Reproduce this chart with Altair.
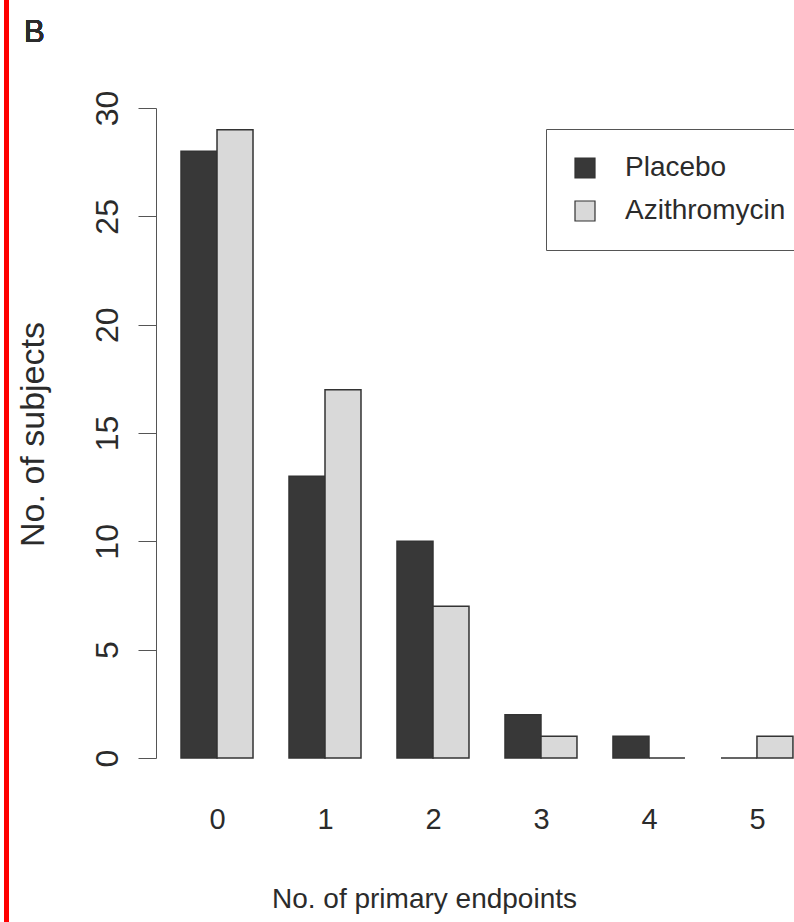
import altair as alt
import pandas as pd

# Number of primary endpoints per subject, by treatment arm
endpoints = [0, 1, 2, 3, 4, 5]
placebo = [28, 13, 10, 2, 1, 0]
azithromycin = [29, 17, 7, 1, 0, 1]
groups = ["Placebo", "Azithromycin"]
colors = ["#383838", "#d9d9d9"]

rows = []
for k, p, a in zip(endpoints, placebo, azithromycin):
    rows.append({"endpoints": k, "arm": "Placebo", "subjects": p})
    rows.append({"endpoints": k, "arm": "Azithromycin", "subjects": a})
df = pd.DataFrame(rows)

FONT = "Liberation Sans"
TXT = "#2b2b2b"

# side-by-side bars: each bar is a third of a group step wide
bars = (
    alt.Chart(df)
    .transform_calculate(
        x0="datum.endpoints + (datum.arm === 'Placebo' ? -1/3 : 0)",
        x1="datum.endpoints + (datum.arm === 'Placebo' ? 0 : 1/3)",
    )
    .mark_bar(stroke="#333333", strokeWidth=1.5)
    .encode(
        x=alt.X(
            "x0:Q",
            scale=alt.Scale(domain=[-0.565, 5.343], nice=False, zero=False),
            axis=alt.Axis(
                values=endpoints,
                format="d",
                title="No. of primary endpoints",
                domain=False,
                ticks=False,
                grid=False,
                labelFontSize=29,
                labelPadding=47,
                labelColor=TXT,
                labelFont=FONT,
                titleFontSize=28,
                titleFont=FONT,
                titleFontWeight="normal",
                titleColor=TXT,
                titlePadding=51,
                titleX=268,
                titleAlign="center",
            ),
        ),
        x2="x1:Q",
        y=alt.Y(
            "subjects:Q",
            scale=alt.Scale(domain=[0, 30], nice=False),
            axis=alt.Axis(
                values=[0, 5, 10, 15, 20, 25, 30],
                title="No. of subjects",
                grid=False,
                domainColor="#555555",
                tickColor="#555555",
                tickSize=18,
                labelAngle=270,
                labelFontSize=32,
                labelPadding=14,
                labelColor=TXT,
                labelFont=FONT,
                titleFontSize=34,
                titleFont=FONT,
                titleFontWeight="normal",
                titleColor=TXT,
                titleX=-123,
                titleY=326,
                titleAngle=270,
                titleAlign="center",
                titleBaseline="middle",
            ),
        ),
        y2=alt.datum(0),
        color=alt.Color(
            "arm:N",
            scale=alt.Scale(domain=groups, range=colors),
            legend=alt.Legend(
                title=None,
                orient="none",
                legendX=390,
                legendY=21,
                symbolType="square",
                symbolSize=400,
                symbolStrokeColor="#333333",
                symbolStrokeWidth=1.2,
                labelFontSize=28,
                labelFont=FONT,
                labelColor=TXT,
                labelOffset=26,
                labelLimit=400,
                padding=25,
                rowPadding=15,
                strokeColor="#555555",
                fillColor="white",
            ),
        ),
    )
)

# red edge rule and panel letter
edge = alt.Chart(df).mark_rule(color="#ff0000", strokeWidth=5).encode(
    x=alt.value(-149.5), y=alt.value(-108), y2=alt.value(814)
)
letter = alt.Chart(df).mark_text(
    text="B", fontSize=31, font=FONT, color=TXT, align="left", baseline="alphabetic"
).encode(x=alt.value(-132), y=alt.value(-66))

chart = (
    alt.layer(bars, edge, letter)
    .properties(
        width=638,
        height=650,
        autosize=alt.AutoSizeParams(type="none"),
        padding={"left": 156, "top": 108, "right": 0, "bottom": 164},
        background="white",
    )
    .configure_view(stroke=None)
)

chart.save("out.html", embed_options={"renderer": "svg", "actions": False})
